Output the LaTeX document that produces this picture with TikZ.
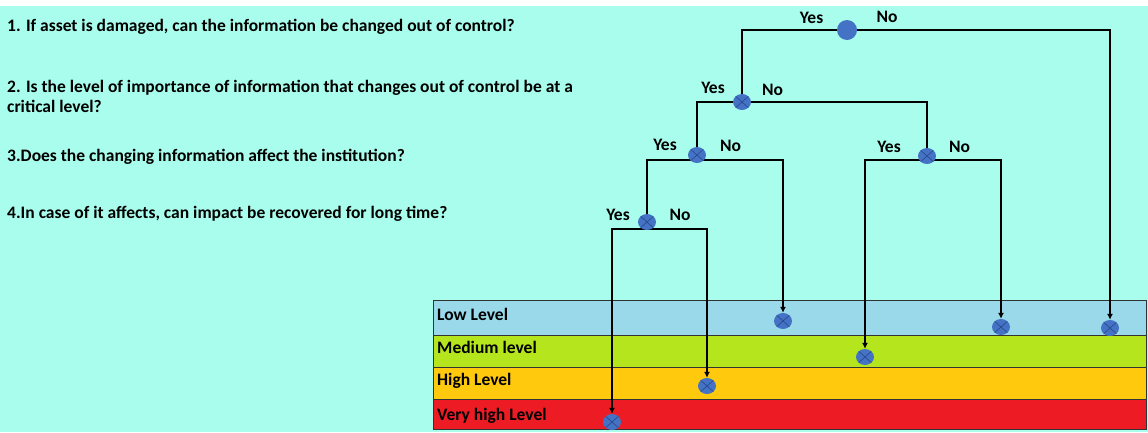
\documentclass[tikz,border=0pt]{standalone}
\usepackage{fontspec}
\setmainfont{Carlito}
\usetikzlibrary{shapes.geometric,arrows.meta}
\definecolor{aquabg}{RGB}{169,253,236}
\definecolor{lowc}{RGB}{153,217,234}
\definecolor{medc}{RGB}{181,230,29}
\definecolor{highc}{RGB}{255,201,14}
\definecolor{vhighc}{RGB}{237,28,36}
\definecolor{nodeblue}{RGB}{68,114,196}
\definecolor{crossblue}{RGB}{40,70,140}
\pgfdeclarelayer{bgl}
\pgfdeclarelayer{linel}
\pgfsetlayers{bgl,linel,main}
\tikzset{
  txt/.style={font=\fontsize{17.5}{20}\selectfont\bfseries, inner sep=0pt, anchor=base west, text=black},
  yn/.style={font=\fontsize{17.5}{20}\selectfont\bfseries, inner sep=0pt, text=black},
  rootnode/.style={circle, fill=nodeblue, minimum size=20pt, inner sep=0pt},
  crossnode/.style={ellipse, fill=nodeblue, minimum width=18pt, minimum height=16pt, inner sep=0pt,
    path picture={\draw[crossblue, line width=0.6pt]
      (path picture bounding box.north west) -- (path picture bounding box.south east)
      (path picture bounding box.north east) -- (path picture bounding box.south west);}},
  conn/.style={draw=black, line width=2pt},
  arr/.style={conn, -{Latex[length=6pt,width=6pt]}},
  band/.style={draw=black!80, line width=1pt}
}
\begin{document}
\begin{tikzpicture}[x=1pt,y=-1pt]
\useasboundingbox (0,0) rectangle (1148,432);
\begin{pgfonlayer}{bgl}
  \fill[white] (0,0) rectangle (1148,432);
  \fill[aquabg] (0,6) rectangle (1148,432);
  \fill[lowc] (433,300) rectangle (1147,335);
  \fill[medc] (433,335) rectangle (1147,367);
  \fill[highc] (433,367) rectangle (1147,399);
  \fill[vhighc] (433,399) rectangle (1147,430);
  \draw[band] (433.5,300.5) rectangle (1146.5,429.5);
  \draw[band] (433,335.5) -- (1147,335.5);
  \draw[band] (433,367.5) -- (1147,367.5);
  \draw[band] (433,399.5) -- (1147,399.5);
\end{pgfonlayer}

% questions
\node[txt] (q1) at (7,31) {1. If asset is damaged, can the information be changed out of control?};
\node[txt] (q2) at (7,92) {2. Is the level of importance of information that changes out of control be at a};
\node[txt] (q2b) at (7,112) {critical level?};
\node[txt] (q3) at (7,161) {3.Does the changing information affect the institution?};
\node[txt] (q4) at (7,218) {4.In case of it affects, can impact be recovered for long time?};

% band labels
\node[txt] (bl1) at (437,320) {Low Level};
\node[txt] (bl2) at (437,353) {Medium level};
\node[txt] (bl3) at (437,385) {High Level};
\node[txt] (bl4) at (437,420) {Very high Level};

% decision nodes
\node[rootnode] (root) at (847,30) {};
\node[crossnode] (n2) at (742,102) {};
\node[crossnode] (n3L) at (697,155) {};
\node[crossnode] (n3R) at (927,156) {};
\node[crossnode] (n4) at (647,222) {};

% leaves
\node[crossnode] (lA) at (612,422) {};
\node[crossnode] (lB) at (707,386) {};
\node[crossnode] (lC) at (783,321) {};
\node[crossnode] (lD) at (865,357) {};
\node[crossnode] (lE) at (1001,327) {};
\node[crossnode] (lF) at (1110,328) {};

% junction coordinates
\coordinate (j3L) at (697,160);
\coordinate (j3R) at (927,160);
\coordinate (j4) at (647,229);

% yes/no labels
\node[yn] (y1) at (811.5,18) {Yes};
\node[yn] (o1) at (887,17) {No};
\node[yn] (y2) at (713,88) {Yes};
\node[yn] (o2) at (772.5,90) {No};
\node[yn] (y3) at (665,145) {Yes};
\node[yn] (o3) at (730.5,146) {No};
\node[yn] (y4) at (889,147) {Yes};
\node[yn] (o4) at (959.5,147) {No};
\node[yn] (y5) at (618,215) {Yes};
\node[yn] (o5) at (680,215) {No};

\begin{pgfonlayer}{linel}
  \draw[conn] (root) -| (n2);
  \draw[arr] (root) -| (lF);
  \draw[conn] (n2) -| (n3L);
  \draw[conn] (n2) -| (n3R);
  \draw[conn] (n4) |- (j3L);
  \draw[arr] (j3L) -| (lC);
  \draw[arr] (j3R) -| (lD);
  \draw[arr] (j3R) -| (lE);
  \draw[arr] (j4) -| (lA);
  \draw[arr] (j4) -| (lB);
\end{pgfonlayer}
\end{tikzpicture}
\end{document}
